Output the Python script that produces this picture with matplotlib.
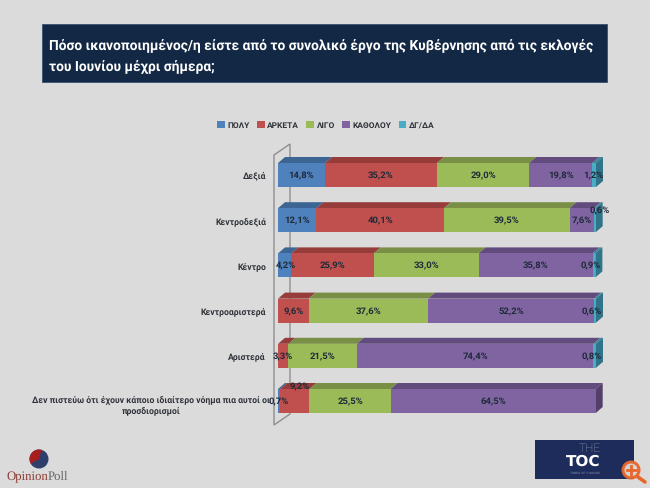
#!/usr/bin/env python3
"""Satisfaction poll slide: stacked 3D-look horizontal bars."""

import matplotlib
matplotlib.use("Agg")
import matplotlib.pyplot as plt
from matplotlib.patches import Circle, Patch, Polygon, Rectangle, Wedge

W, H = 650, 489
FONT = "Roboto"
plt.rcParams["font.family"] = [FONT, "DejaVu Sans"]
plt.rcParams["text.hinting"] = "no_hinting"

categories = ["Δεξιά", "Κεντροδεξιά", "Κέντρο", "Κεντροαριστερά", "Αριστερά",
              "Δεν πιστεύω ότι έχουν κάποιο ιδιαίτερο νόημα πια αυτοί οι\nπροσδιορισμοί"]
series_names = ["ΠΟΛΥ", "ΑΡΚΕΤΑ", "ΛΙΓΟ", "ΚΑΘΟΛΟΥ", "ΔΓ/ΔΑ"]
poly = [14.8, 12.1, 4.2, 0, 0, 0.7]
arketa = [35.2, 40.1, 25.9, 9.6, 3.3, 9.2]
ligo = [29.0, 39.5, 33.0, 37.6, 21.5, 25.5]
katholou = [19.8, 7.6, 35.8, 52.2, 74.4, 64.5]
dgda = [1.2, 0.6, 0.9, 0.6, 0.8, 0]
series = [poly, arketa, ligo, katholou, dgda]

FRONT = ["#4F81BD", "#C0504D", "#9BBB59", "#8064A2", "#4BACC6"]
TOP = ["#3C6594", "#963D3B", "#788F45", "#624C7D", "#3A8599"]
SIDE = ["#34557C", "#7E3331", "#657A3A", "#533F6A", "#2F7488"]
BG = "#DBDBDB"
NAVY = "#132844"
TXT = "#1F2A3A"
LABEL = "#30343A"

# 100% = 318 px, one row = 45.2 px
X0, X100 = 278, 596
Y_FIRST, ROW = 176, 45.2
DX = 7 / 3.18
DY = 6 / ROW
BAR_H = 24 / ROW

# nudges for labels in thin segments (row, series): (px right, px down)
nudge = {(0, 4): (-1, 0), (1, 4): (5, -10), (2, 0): (1, 0), (3, 4): (-3, 0), (2, 4): (-3, 0),
         (4, 4): (-3, 0), (5, 1): (5, -15)}

fig = plt.figure(figsize=(W / 100, H / 100), dpi=100, facecolor=BG)

# slide furniture, in pixel coordinates
deco = fig.add_axes([0, 0, 1, 1])
deco.set_xlim(0, W)
deco.set_ylim(H, 0)
deco.axis("off")
deco.add_patch(Rectangle((42, 25), 565, 58, fc=NAVY, ec="#3A5070", lw=0.6))
deco.text(49, 46, "Πόσο ικανοποιημένος/η είστε από το συνολικό έργο της Κυβέρνησης από τις εκλογές",
          color="white", fontsize=9.95, fontweight="bold", va="center")
deco.text(49, 67, "του Ιουνίου μέχρι σήμερα;", color="white", fontsize=9.95,
          fontweight="bold", va="center")

# OpinionPoll logo
deco.add_patch(Circle((39, 460), 9.5, fc="#2F3F6B", ec="none"))
deco.add_patch(Wedge((39, 460), 9.5, 150, 285, fc="#A81E1E", ec="none"))
deco.text(6, 477, "Opinion", family="Liberation Serif", fontsize=9.2, color="#8C3A32", va="center")
deco.text(48, 477, "Poll", family="Liberation Serif", fontsize=9.2, color="#666666", va="center")

# The TOC logo
deco.add_patch(Rectangle((535, 441), 99, 39, fc="#1D2C5A", ec="none"))
deco.text(590, 449, "THE", color="#9AA3BC", fontsize=8.5, fontweight="light", ha="center", va="center")
deco.text(583, 462, "TOC", color="white", fontsize=11, family="DejaVu Sans", fontweight="bold",
          ha="center", va="center")
deco.text(585, 473, "TIMES OF CHANGE", color="#8790AC", fontsize=2.5, ha="center", va="center")

# zoom icon
deco.plot([638, 645], [478, 483], color="#E8662A", lw=2.6, solid_capstyle="round")
deco.add_patch(Circle((631, 471), 8, fc=BG, ec="#E8662A", lw=2.2, alpha=0.95))
deco.plot([626.5, 635.5], [471, 471], color="#E8662A", lw=2)
deco.plot([631, 631], [466.5, 475.5], color="#E8662A", lw=2)

# chart axes: top-left is row 0 at 0%
y_top = Y_FIRST - ROW / 2
y_bot = Y_FIRST + ROW * (len(categories) - 0.5)
ax = fig.add_axes([X0 / W, 1 - y_bot / H, (X100 - X0) / W, (y_bot - y_top) / H])
ax.patch.set_alpha(0)
ax.set_xlim(0, 100)
ax.set_ylim(len(categories) - 0.5, -0.5)
for side in ax.spines.values():
    side.set_visible(False)
ax.tick_params(left=False, bottom=False, labelbottom=False, labelleft=False)

# side wall behind the bars
wall_dx, wall_l = 16 / 3.18, -4 / 3.18
wall_top, wall_bot = -20 / ROW, len(categories) - 1 + 24 / ROW
ax.add_patch(Polygon([(wall_l, wall_top), (wall_l + wall_dx, wall_top - 11 / ROW),
                      (wall_l + wall_dx, wall_bot - 11 / ROW), (wall_l, wall_bot)],
                     closed=True, fc="none", ec="#8E8E8E", lw=1, clip_on=False, zorder=1))

for row in range(len(categories)):
    left = 0
    last = None
    for s, values in enumerate(series):
        v = values[row]
        if v == 0:
            continue
        ax.barh(row, v, left=left, height=BAR_H, color=FRONT[s], lw=0, zorder=3)
        up = row - BAR_H / 2
        ax.add_patch(Polygon([(left, up), (left + v, up), (left + v + DX, up - DY), (left + DX, up - DY)],
                             closed=True, fc=TOP[s], ec="none", clip_on=False, zorder=2))
        left += v
        last = s
    up, down = row - BAR_H / 2, row + BAR_H / 2
    ax.add_patch(Polygon([(left, up), (left + DX, up - DY), (left + DX, down - DY), (left, down)],
                         closed=True, fc=SIDE[last], ec="none", clip_on=False, zorder=2))

    left = 0
    for s, values in enumerate(series):
        v = values[row]
        if v == 0:
            continue
        off_x, off_y = nudge.get((row, s), (0, 0))
        ax.text(left + v / 2 + off_x / 3.18, row + off_y / ROW, f"{v:.1f}%".replace(".", ","),
                ha="center", va="center", fontsize=6.8, fontweight="bold", color=TXT,
                clip_on=False, zorder=5)
        left += v

    if row < 5:
        ax.text(-12 / 3.18, row, categories[row], ha="right", va="center",
                fontsize=6.2, fontweight="bold", color=LABEL, clip_on=False)
    else:
        ax.text(-127 / 3.18, row + 3 / ROW, categories[row], ha="center", va="center",
                fontsize=6.2, fontweight="bold", color=LABEL, linespacing=1.3, clip_on=False)

handles = [Patch(fc=c, ec="none") for c in FRONT]
ax.legend(handles, series_names, ncol=5, loc="center",
          bbox_to_anchor=((326 - X0) / (X100 - X0), 1 + (y_top - 126) / (y_bot - y_top)),
          frameon=False, prop={"family": FONT, "weight": "bold", "size": 6},
          handlelength=0.9, handleheight=0.9, handletextpad=0.35, columnspacing=0.85, labelcolor=LABEL)

fig.savefig("out.png", dpi=100, facecolor=BG)
